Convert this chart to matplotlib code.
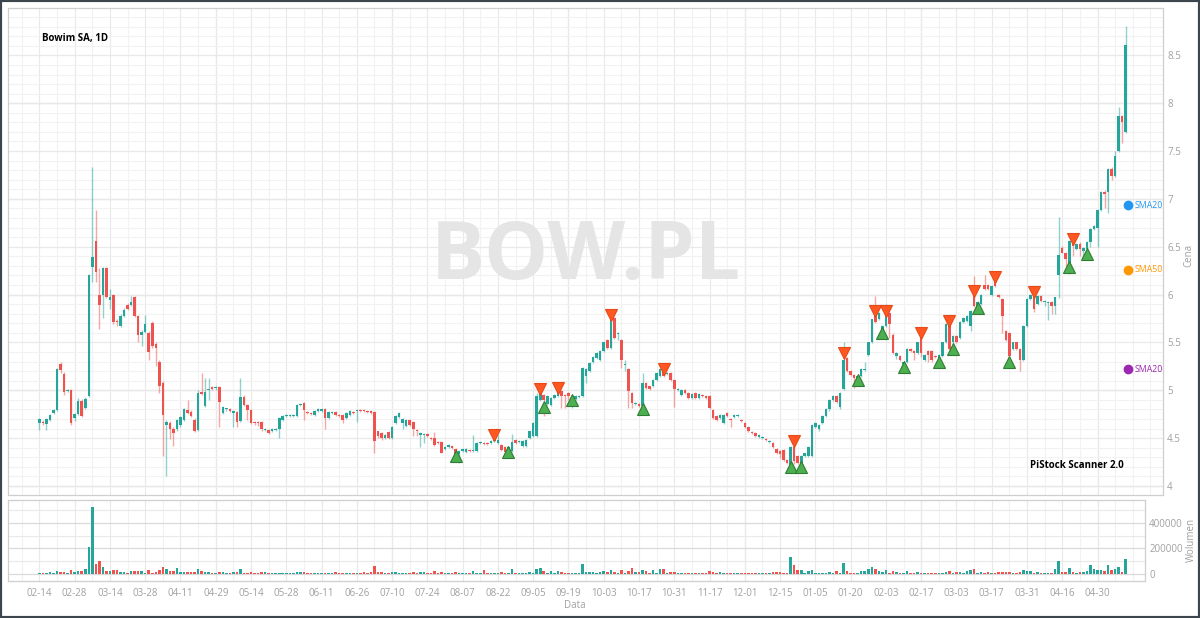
import numpy as np
import matplotlib
matplotlib.use("Agg")
import matplotlib.pyplot as plt
from matplotlib.ticker import MultipleLocator, FixedLocator, NullFormatter
from matplotlib.patches import Rectangle

plt.rcParams['font.family'] = ['Open Sans', 'DejaVu Sans']

# Daily OHLC (PLN), one value per session
opens = [
    4.66, 4.67, 4.65, 4.69, 4.76, 4.79, 5.28, 5.17, 4.99, 5.00,
    4.71, 4.75, 4.89, 4.81, 4.94, 6.29, 6.56, 6.00, 6.00, 6.28,
    5.94, 6.00, 5.72, 5.67, 5.78, 5.89, 5.89, 5.98, 5.78, 5.58,
    5.61, 5.60, 5.70, 5.48, 5.30, 5.08, 4.64, 4.66, 4.60, 4.60,
    4.64, 4.69, 4.79, 4.77, 4.69, 4.59, 4.98, 4.84, 5.00, 5.03,
    5.02, 5.03, 4.76, 4.80, 4.80, 4.76, 4.77, 4.68, 4.93, 4.85,
    4.79, 4.67, 4.67, 4.67, 4.59, 4.59, 4.57, 4.59, 4.60, 4.69,
    4.73, 4.73, 4.73, 4.73, 4.85, 4.87, 4.77, 4.76, 4.74, 4.78,
    4.78, 4.80, 4.71, 4.76, 4.77, 4.74, 4.74, 4.71, 4.74, 4.77,
    4.78, 4.79, 4.79, 4.78, 4.78, 4.77, 4.57, 4.55, 4.50, 4.56,
    4.50, 4.66, 4.72, 4.66, 4.63, 4.69, 4.67, 4.59, 4.53, 4.53,
    4.54, 4.50, 4.50, 4.46, 4.46, 4.39, 4.41, 4.42, 4.39, 4.33,
    4.37, 4.36, 4.38, 4.37, 4.37, 4.45, 4.45, 4.45, 4.45, 4.47,
    4.45, 4.43, 4.41, 4.35, 4.37, 4.48, 4.46, 4.42, 4.42, 4.50,
    4.52, 4.52, 4.90, 4.95, 4.86, 4.85, 4.92, 4.94, 4.99, 4.95,
    4.97, 4.90, 4.91, 4.93, 4.94, 5.15, 5.20, 5.30, 5.34, 5.32,
    5.41, 5.53, 5.44, 5.76, 5.59, 5.53, 5.26, 5.22, 4.97, 4.86,
    4.86, 4.84, 5.08, 5.04, 5.04, 5.11, 5.15, 5.20, 5.17, 5.18,
    5.11, 5.00, 4.95, 5.00, 4.97, 4.92, 4.97, 4.92, 4.95, 4.94,
    4.94, 4.79, 4.73, 4.71, 4.66, 4.76, 4.70, 4.72, 4.73, 4.69,
    4.66, 4.62, 4.56, 4.55, 4.51, 4.50, 4.49, 4.46, 4.45, 4.39,
    4.37, 4.38, 4.27, 4.22, 4.41, 4.31, 4.24, 4.31, 4.31, 4.31,
    4.62, 4.60, 4.66, 4.73, 4.80, 4.90, 4.94, 4.83, 5.01, 5.34,
    5.20, 5.16, 5.11, 5.15, 5.21, 5.37, 5.50, 5.83, 5.74, 5.60,
    5.67, 5.81, 5.58, 5.36, 5.36, 5.27, 5.30, 5.43, 5.41, 5.39,
    5.60, 5.32, 5.41, 5.41, 5.36, 5.34, 5.36, 5.50, 5.72, 5.50,
    5.57, 5.55, 5.71, 5.72, 5.67, 6.02, 5.86, 5.90, 6.10, 6.10,
    6.00, 6.17, 6.00, 5.95, 5.62, 5.60, 5.43, 5.50, 5.43, 5.32,
    5.67, 5.95, 5.99, 5.90, 5.99, 5.92, 5.91, 5.92, 5.88, 6.20,
    6.49, 6.44, 6.30, 6.55, 6.48, 6.53, 6.46, 6.48, 6.55, 6.69,
    6.70, 6.88, 7.07, 7.07, 7.31, 7.24, 7.50, 7.87, 7.70,
]
highs = [
    4.71, 4.69, 4.71, 4.75, 4.80, 5.23, 5.30, 5.19, 5.01, 5.01,
    4.76, 4.92, 4.91, 4.93, 6.22, 7.33, 6.88, 6.28, 6.29, 6.29,
    6.06, 6.01, 5.74, 5.80, 5.86, 5.91, 5.99, 5.99, 5.79, 5.63,
    5.79, 5.62, 5.72, 5.50, 5.32, 5.10, 4.69, 4.68, 4.62, 4.70,
    4.73, 4.82, 4.90, 4.79, 4.71, 5.00, 5.18, 5.13, 5.13, 5.05,
    5.04, 5.04, 4.84, 4.82, 4.81, 4.79, 4.78, 5.13, 4.95, 4.86,
    4.80, 4.68, 4.68, 4.68, 4.61, 4.60, 4.61, 4.61, 4.72, 4.74,
    4.75, 4.75, 4.75, 4.86, 4.87, 4.88, 4.78, 4.77, 4.79, 4.81,
    4.81, 4.81, 4.78, 4.78, 4.78, 4.75, 4.75, 4.77, 4.79, 4.78,
    4.80, 4.80, 4.80, 4.79, 4.79, 4.78, 4.58, 4.56, 4.54, 4.57,
    4.63, 4.74, 4.77, 4.71, 4.70, 4.70, 4.68, 4.60, 4.56, 4.55,
    4.55, 4.51, 4.56, 4.47, 4.47, 4.42, 4.44, 4.43, 4.40, 4.38,
    4.40, 4.40, 4.39, 4.53, 4.46, 4.47, 4.46, 4.46, 4.48, 4.49,
    4.53, 4.44, 4.42, 4.42, 4.54, 4.49, 4.48, 4.48, 4.49, 4.58,
    4.67, 4.97, 4.99, 4.96, 4.95, 4.93, 4.96, 4.98, 5.00, 4.96,
    4.98, 4.95, 4.95, 4.95, 5.24, 5.23, 5.30, 5.36, 5.40, 5.42,
    5.51, 5.54, 5.77, 5.77, 5.61, 5.54, 5.32, 5.23, 4.98, 4.88,
    4.87, 5.18, 5.09, 5.05, 5.12, 5.19, 5.23, 5.25, 5.19, 5.19,
    5.12, 5.02, 5.01, 5.01, 4.98, 4.97, 4.98, 4.97, 4.96, 4.95,
    4.95, 4.80, 4.74, 4.75, 4.75, 4.77, 4.71, 4.75, 4.75, 4.70,
    4.67, 4.63, 4.57, 4.56, 4.54, 4.52, 4.50, 4.48, 4.46, 4.40,
    4.38, 4.39, 4.28, 4.42, 4.45, 4.32, 4.32, 4.35, 4.42, 4.65,
    4.67, 4.65, 4.74, 4.81, 4.91, 4.95, 4.95, 4.98, 5.50, 5.35,
    5.21, 5.17, 5.16, 5.23, 5.30, 5.51, 5.75, 5.99, 5.82, 5.68,
    5.90, 5.82, 5.60, 5.40, 5.37, 5.31, 5.44, 5.44, 5.42, 5.51,
    5.61, 5.38, 5.42, 5.42, 5.37, 5.38, 5.51, 5.70, 5.73, 5.58,
    5.58, 5.72, 5.77, 5.79, 5.84, 6.19, 5.93, 6.01, 6.20, 6.11,
    6.10, 6.20, 6.01, 5.96, 5.63, 5.61, 5.51, 5.51, 5.44, 5.68,
    5.96, 6.01, 6.00, 6.00, 6.00, 5.94, 5.93, 5.93, 5.98, 6.81,
    6.51, 6.45, 6.57, 6.58, 6.54, 6.55, 6.50, 6.56, 6.70, 6.73,
    6.89, 7.08, 7.09, 7.32, 7.33, 7.50, 7.96, 7.88, 8.81,
]
lows = [
    4.59, 4.64, 4.59, 4.68, 4.75, 4.78, 5.18, 4.95, 4.98, 4.64,
    4.68, 4.74, 4.72, 4.80, 4.93, 6.13, 6.13, 5.64, 5.76, 5.96,
    5.85, 5.69, 5.67, 5.66, 5.77, 5.84, 5.88, 5.77, 5.50, 5.46,
    5.60, 5.32, 5.44, 5.25, 4.97, 4.31, 4.10, 4.49, 4.42, 4.58,
    4.62, 4.68, 4.75, 4.72, 4.56, 4.57, 4.95, 4.83, 4.90, 5.00,
    5.00, 4.62, 4.75, 4.78, 4.77, 4.62, 4.62, 4.67, 4.84, 4.69,
    4.65, 4.64, 4.63, 4.58, 4.57, 4.54, 4.56, 4.58, 4.50, 4.68,
    4.72, 4.72, 4.72, 4.72, 4.84, 4.69, 4.75, 4.74, 4.73, 4.77,
    4.77, 4.60, 4.70, 4.75, 4.73, 4.72, 4.66, 4.70, 4.73, 4.75,
    4.67, 4.77, 4.77, 4.76, 4.75, 4.35, 4.50, 4.48, 4.49, 4.49,
    4.49, 4.65, 4.71, 4.60, 4.62, 4.63, 4.52, 4.52, 4.41, 4.45,
    4.51, 4.48, 4.42, 4.44, 4.34, 4.38, 4.40, 4.39, 4.32, 4.24,
    4.36, 4.35, 4.36, 4.36, 4.36, 4.44, 4.43, 4.43, 4.44, 4.46,
    4.44, 4.37, 4.35, 4.34, 4.36, 4.44, 4.45, 4.41, 4.41, 4.49,
    4.51, 4.51, 4.89, 4.73, 4.85, 4.84, 4.91, 4.93, 4.81, 4.81,
    4.90, 4.81, 4.90, 4.92, 4.93, 5.08, 5.19, 5.29, 5.33, 5.31,
    5.40, 5.43, 5.43, 5.54, 5.53, 5.23, 5.20, 4.81, 4.81, 4.85,
    4.83, 4.83, 5.01, 5.00, 5.03, 5.10, 5.14, 5.14, 5.16, 5.10,
    4.83, 4.99, 4.94, 4.96, 4.91, 4.91, 4.91, 4.91, 4.93, 4.91,
    4.80, 4.70, 4.68, 4.70, 4.65, 4.72, 4.62, 4.71, 4.72, 4.67,
    4.61, 4.56, 4.54, 4.51, 4.50, 4.49, 4.47, 4.45, 4.40, 4.33,
    4.29, 4.26, 4.23, 4.21, 4.23, 4.23, 4.23, 4.30, 4.30, 4.30,
    4.61, 4.57, 4.65, 4.72, 4.78, 4.89, 4.87, 4.80, 5.00, 5.19,
    5.15, 5.02, 5.10, 5.14, 5.20, 5.36, 5.49, 5.70, 5.73, 5.55,
    5.66, 5.55, 5.38, 5.33, 5.31, 5.26, 5.29, 5.40, 5.32, 5.38,
    5.35, 5.31, 5.30, 5.30, 5.34, 5.33, 5.35, 5.49, 5.42, 5.45,
    5.49, 5.54, 5.70, 5.71, 5.62, 5.87, 5.80, 5.89, 6.05, 6.05,
    5.99, 6.08, 5.96, 5.60, 5.52, 5.30, 5.42, 5.42, 5.20, 5.31,
    5.66, 5.94, 5.82, 5.89, 5.92, 5.88, 5.73, 5.80, 5.80, 5.96,
    6.43, 6.30, 6.22, 6.40, 6.47, 6.40, 6.37, 6.47, 6.50, 6.68,
    6.50, 6.87, 6.91, 6.85, 7.20, 7.23, 7.49, 7.58, 7.69,
]
closes = [
    4.70, 4.66, 4.70, 4.74, 4.79, 5.22, 5.21, 4.98, 5.00, 4.66,
    4.75, 4.89, 4.73, 4.91, 6.21, 6.39, 6.24, 5.89, 6.28, 5.98,
    5.98, 5.71, 5.71, 5.78, 5.84, 5.85, 5.92, 5.78, 5.58, 5.61,
    5.69, 5.40, 5.46, 5.44, 5.04, 4.74, 4.67, 4.60, 4.55, 4.69,
    4.72, 4.80, 4.76, 4.73, 4.57, 4.97, 4.96, 4.98, 5.01, 5.01,
    5.03, 4.88, 4.83, 4.81, 4.78, 4.78, 4.67, 4.93, 4.85, 4.79,
    4.66, 4.66, 4.66, 4.60, 4.60, 4.55, 4.60, 4.60, 4.71, 4.73,
    4.74, 4.74, 4.74, 4.85, 4.86, 4.79, 4.76, 4.75, 4.78, 4.80,
    4.80, 4.71, 4.77, 4.77, 4.74, 4.73, 4.69, 4.76, 4.78, 4.76,
    4.79, 4.78, 4.78, 4.77, 4.76, 4.47, 4.52, 4.50, 4.53, 4.50,
    4.62, 4.73, 4.76, 4.70, 4.69, 4.64, 4.60, 4.57, 4.55, 4.54,
    4.52, 4.49, 4.43, 4.45, 4.35, 4.41, 4.43, 4.40, 4.33, 4.37,
    4.39, 4.39, 4.37, 4.38, 4.45, 4.46, 4.44, 4.44, 4.47, 4.48,
    4.48, 4.38, 4.36, 4.41, 4.46, 4.45, 4.47, 4.47, 4.48, 4.57,
    4.66, 4.94, 4.97, 4.90, 4.94, 4.92, 4.95, 4.97, 4.94, 4.94,
    4.94, 4.94, 4.94, 4.94, 5.23, 5.22, 5.29, 5.35, 5.39, 5.41,
    5.50, 5.44, 5.76, 5.55, 5.60, 5.32, 5.27, 4.99, 4.87, 4.87,
    4.84, 5.08, 5.02, 5.01, 5.11, 5.18, 5.22, 5.15, 5.18, 5.11,
    5.01, 5.01, 5.00, 4.97, 4.92, 4.96, 4.92, 4.96, 4.94, 4.92,
    4.81, 4.71, 4.69, 4.74, 4.74, 4.73, 4.69, 4.74, 4.74, 4.68,
    4.62, 4.57, 4.55, 4.52, 4.53, 4.51, 4.48, 4.47, 4.41, 4.34,
    4.33, 4.27, 4.24, 4.41, 4.26, 4.24, 4.31, 4.34, 4.41, 4.64,
    4.66, 4.64, 4.73, 4.80, 4.90, 4.94, 4.88, 4.97, 5.32, 5.20,
    5.16, 5.13, 5.15, 5.22, 5.22, 5.50, 5.74, 5.71, 5.81, 5.67,
    5.81, 5.69, 5.39, 5.39, 5.32, 5.30, 5.43, 5.41, 5.39, 5.50,
    5.39, 5.37, 5.37, 5.32, 5.35, 5.37, 5.50, 5.69, 5.43, 5.57,
    5.50, 5.71, 5.76, 5.78, 5.83, 5.88, 5.92, 6.00, 6.06, 6.06,
    6.09, 6.09, 5.97, 5.78, 5.53, 5.36, 5.50, 5.43, 5.32, 5.67,
    5.95, 6.00, 5.85, 5.99, 5.93, 5.93, 5.92, 5.88, 5.97, 6.41,
    6.44, 6.37, 6.56, 6.51, 6.53, 6.48, 6.49, 6.55, 6.69, 6.72,
    6.88, 7.07, 7.05, 7.31, 7.24, 7.45, 7.87, 7.80, 8.61,
]
# Volume in thousands of shares
volume_k = [
    8, 8, 13, 18, 10, 28, 20, 20, 10, 36,
    18, 28, 28, 41, 214, 519, 80, 103, 54, 28,
    28, 34, 36, 15, 18, 10, 28, 26, 23, 28,
    10, 31, 10, 18, 36, 59, 39, 28, 26, 47,
    18, 20, 18, 18, 18, 41, 28, 20, 20, 10,
    10, 20, 18, 8, 8, 18, 15, 44, 10, 10,
    18, 8, 10, 15, 18, 8, 8, 8, 8, 8,
    8, 8, 8, 15, 15, 15, 8, 8, 8, 10,
    8, 8, 8, 8, 15, 8, 8, 8, 8, 8,
    8, 8, 15, 8, 20, 65, 15, 15, 10, 8,
    15, 18, 8, 8, 8, 8, 18, 13, 18, 18,
    8, 8, 26, 10, 15, 10, 8, 13, 18, 10,
    10, 10, 8, 26, 10, 8, 31, 10, 10, 10,
    10, 15, 10, 8, 39, 10, 10, 10, 10, 18,
    13, 39, 49, 23, 13, 23, 10, 26, 18, 10,
    8, 10, 10, 10, 80, 15, 18, 18, 10, 18,
    26, 18, 31, 18, 10, 36, 10, 26, 52, 18,
    18, 31, 28, 10, 31, 10, 44, 44, 10, 20,
    20, 10, 8, 8, 8, 8, 8, 8, 8, 8,
    26, 15, 10, 15, 8, 8, 8, 8, 8, 8,
    8, 10, 8, 8, 8, 8, 10, 10, 15, 15,
    15, 10, 13, 137, 72, 31, 36, 10, 28, 34,
    13, 10, 10, 13, 18, 10, 28, 10, 88, 26,
    10, 10, 10, 28, 23, 44, 59, 44, 28, 15,
    31, 10, 26, 18, 10, 13, 26, 13, 10, 18,
    10, 13, 10, 10, 8, 8, 13, 20, 28, 13,
    15, 15, 10, 23, 34, 44, 10, 18, 10, 15,
    10, 10, 15, 18, 18, 18, 10, 10, 18, 31,
    26, 26, 13, 18, 10, 10, 10, 10, 39, 101,
    18, 18, 47, 18, 10, 18, 18, 26, 70, 41,
    34, 31, 23, 70, 36, 44, 54, 18, 116,
]
# Date labels shown every 10 sessions
date_labels = ['02-14', '02-28', '03-14', '03-28', '04-11', '04-29', '05-14',
               '05-28', '06-11', '06-26', '07-10', '07-24', '08-07', '08-22',
               '09-05', '09-19', '10-03', '10-17', '10-31', '11-17', '12-01',
               '12-15', '01-05', '01-20', '02-03', '02-17', '03-03', '03-17',
               '03-31', '04-16', '04-30']

# Scanner signals (session index, price level of the marker)
sell_idx = [129, 142, 147, 162, 177, 214, 228, 237, 240, 250, 258, 265, 271, 282, 293]
sell_px = [4.53, 5.01, 5.02, 5.79, 5.22, 4.47, 5.39, 5.83, 5.83, 5.60, 5.72, 6.04, 6.18, 6.03, 6.58]
buy_idx = [118, 133, 143, 151, 171, 213, 216, 232, 239, 245, 255, 259, 266, 275, 292, 297]
buy_px = [4.31, 4.36, 4.83, 4.90, 4.80, 4.20, 4.20, 5.11, 5.60, 5.24, 5.30, 5.43, 5.86, 5.30, 6.29, 6.42]

UP = '#26a69a'
DOWN = '#ef5350'
GRID_MINOR = '#f2f2f2'
GRID_MID = '#e9e9e9'
GRID_MAJOR = '#dadada'
LABEL = '#a0a0a0'

o = np.array(opens)
h = np.array(highs)
l = np.array(lows)
c = np.array(closes)
x = np.arange(len(o))
up = c >= o
body_colors = np.where(up, UP, DOWN)

W, H = 1200, 618
fig = plt.figure(figsize=(W / 100, H / 100), dpi=100)
fig.patch.set_facecolor('white')

# pixel layout of the two panels
ax_p = fig.add_axes([8 / W, 1 - 495 / H, 1155 / W, 487 / H])
ax_v = fig.add_axes([8 / W, 1 - 581 / H, 1137 / W, 81 / H])

px_per_bar = 3.527
x0 = -31.4 / px_per_bar
ax_p.set_xlim(x0, x0 + 1155 / px_per_bar)
ax_v.set_xlim(x0, x0 + 1137 / px_per_bar)
ax_p.set_ylim(3.906, 8.995)
ax_v.set_ylim(-52000, 576000)

for ax in (ax_p, ax_v):
    ax.set_facecolor('white')
    for s in ax.spines.values():
        s.set_color('#cfcfcf')
        s.set_linewidth(0.9)
    ax.xaxis.set_minor_locator(MultipleLocator(5))
    ax.xaxis.set_major_locator(FixedLocator(list(range(0, 10 * len(date_labels), 10))))
    ax.grid(which='minor', axis='x', color=GRID_MINOR, linewidth=0.8)
    ax.grid(which='major', axis='x', color=GRID_MID, linewidth=0.8)
    for xv in range(50, len(o), 50):
        ax.axvline(xv, color=GRID_MAJOR, linewidth=0.8, zorder=0.5)
    ax.set_axisbelow(True)
    ax.yaxis.tick_right()
    ax.tick_params(which='both', length=0, labelsize=7, labelcolor=LABEL, pad=3)

# price panel grid
ax_p.yaxis.set_major_locator(FixedLocator([4, 4.5, 5, 5.5, 6, 6.5, 7, 7.5, 8, 8.5]))
ax_p.yaxis.set_minor_locator(MultipleLocator(0.1))
ax_p.grid(which='minor', axis='y', color=GRID_MINOR, linewidth=0.8)
ax_p.grid(which='major', axis='y', color=GRID_MID, linewidth=0.9)
for yv in range(4, 9):
    ax_p.axhline(yv, color=GRID_MAJOR, linewidth=0.9, zorder=0.5)
ax_p.yaxis.set_major_formatter(plt.FuncFormatter(lambda v, p: f"{v:g}"))
ax_p.xaxis.set_major_formatter(NullFormatter())

# watermark
ax_p.text(0.5, 0.487, 'BOW.PL', transform=ax_p.transAxes, ha='center', va='center',
          fontsize=58, fontweight='bold', color='#e5e5e5', zorder=0.8)

# candles
ax_p.vlines(x, l, h, colors=body_colors, linewidth=1.0, alpha=0.5, zorder=2)
body_low = np.minimum(o, c)
body_h = np.maximum(np.abs(c - o), 0.008)
ax_p.bar(x, body_h, bottom=body_low, width=0.72, color=body_colors, linewidth=0, zorder=3)

# signals
ax_p.plot(sell_idx, sell_px, 'v', ms=9, color='#ff5722', mec='#e64a19', mew=0.8, zorder=5)
ax_p.plot(buy_idx, buy_px, '^', ms=9, color='#4caf50', mec='#2e7d32', mew=0.8, zorder=5)

# labels inside the price panel
ax_p.text((42 - 8) / 1155, (495 - 38) / 487, 'Bowim SA, 1D', transform=ax_p.transAxes,
          fontsize=7, fontweight='bold', color='black', va='center', ha='left')
ax_p.text((1030 - 8) / 1155, (495 - 466) / 487, 'PiStock Scanner 2.0', transform=ax_p.transAxes,
          fontsize=7, fontweight='bold', color='black', va='center', ha='left')

# SMA legend entries at the right edge
sma = [('SMA20', '#2196f3', 205), ('SMA50', '#ff9800', 270), ('SMA200', '#9c27b0', 369)]
for name, col, ypix in sma:
    yf = (495 - ypix) / 487
    ax_p.plot([(1128 - 8) / 1155], [yf], 'o', ms=6, color=col, transform=ax_p.transAxes,
              clip_on=False, zorder=6)
    ax_p.text((1134.5 - 8) / 1155, yf, name, transform=ax_p.transAxes, fontsize=6.3, color=col,
              va='center', ha='left', clip_on=True, zorder=6)

# volume panel
vol = np.array(volume_k) * 1000
ax_v.bar(x, vol, width=0.72, color=body_colors, linewidth=0, zorder=3)
ax_v.yaxis.set_major_locator(FixedLocator([0, 200000, 400000]))
ax_v.yaxis.set_minor_locator(FixedLocator([100000, 300000, 500000]))
ax_v.grid(which='minor', axis='y', color=GRID_MID, linewidth=0.8)
ax_v.grid(which='major', axis='y', color=GRID_MAJOR, linewidth=0.9)
ax_v.yaxis.set_major_formatter(plt.FuncFormatter(lambda v, p: f"{int(v)}"))
ax_v.set_xticklabels(date_labels)
ax_v.tick_params(axis='x', pad=5)

# axis titles
fig.text(575 / W, 1 - 606 / H, 'Data', ha='center', va='center', fontsize=7, color=LABEL)
fig.text(1189 / W, 1 - 255 / H, 'Cena', ha='center', va='center', fontsize=7, color=LABEL, rotation=90)
fig.text(1191 / W, 1 - 540 / H, 'Wolumen', ha='center', va='center', fontsize=7, color=LABEL, rotation=90)

# dark outer frame
fig.patches.append(Rectangle((0, 0), 1, 1, transform=fig.transFigure, fill=False,
                             edgecolor='#3d454d', linewidth=3))

fig.savefig('out.png', dpi=100)
plt.close(fig)
